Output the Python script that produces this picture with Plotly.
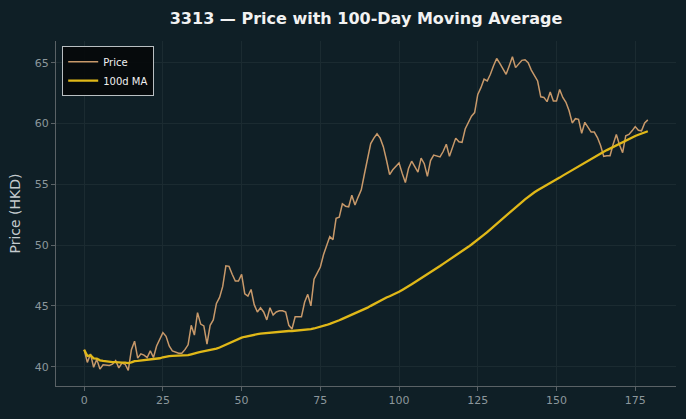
import numpy as np
import pandas as pd
import plotly.graph_objects as go

days = list(range(180))
price = [
    41.4, 40.35, 41.05, 39.95, 40.6, 39.8, 40.15, 40.1, 40.1, 40.2,
    40.5, 39.9, 40.3, 40.2, 39.7, 41.4, 42.1, 40.7, 41.05, 40.95,
    40.75, 41.3, 40.75, 41.7, 42.3, 42.8, 42.5, 41.7, 41.3, 41.2,
    41.1, 41.1, 41.4, 41.8, 43.4, 42.6, 44.45, 43.5, 43.35, 41.85,
    43.4, 43.85, 45.2, 45.7, 46.6, 48.3, 48.25, 47.6, 47.05, 47.05,
    47.6, 46.0, 45.8, 46.35, 45.1, 44.5, 44.85, 44.5, 43.85, 44.85,
    44.25, 44.5, 44.6, 44.6, 44.5, 43.4, 43.1, 44.1, 44.1, 44.1,
    45.3, 45.95, 45.0, 47.2, 47.7, 48.2, 49.2, 50.0, 50.7, 50.45,
    52.2, 52.3, 53.4, 53.2, 53.15, 54.1, 53.3, 53.95, 54.55, 55.85,
    57.2, 58.35, 58.8, 59.15, 58.8, 58.1, 57.0, 55.8, 56.2, 56.5,
    56.75, 55.9, 55.15, 56.3, 56.9, 56.45, 56.0, 57.15, 56.7, 55.65,
    56.95, 57.4, 57.3, 57.25, 57.7, 58.3, 57.3, 58.05, 58.8, 58.5,
    58.45, 59.55, 60.15, 60.6, 60.9, 62.4, 62.95, 63.65, 63.5, 64.05,
    64.75, 65.35, 64.95, 64.5, 64.05, 64.75, 65.5, 64.6, 64.9, 65.2,
    65.25, 65.0, 64.4, 63.9, 63.5, 62.2, 62.15, 61.8, 62.6, 61.85,
    61.85, 62.8, 62.15, 61.75, 61.05, 60.05, 60.4, 60.35, 59.2, 60.1,
    59.7, 59.3, 59.3, 58.85, 58.2, 57.3, 57.35, 57.35, 58.3, 59.1,
    58.25, 57.6, 59.0, 59.1, 59.4, 59.75, 59.45, 59.4, 60.05, 60.3,
]
ma_window = 100
ma = pd.Series(price).rolling(ma_window, min_periods=1).mean().tolist()

x_ticks = [0, 25, 50, 75, 100, 125, 150, 175]
y_ticks = [40, 45, 50, 55, 60, 65]

bg = "#0f1f26"
grid = "#1b2b31"
tick_col = "#8c979c"

fig = go.Figure()
fig.add_trace(go.Scatter(x=days, y=price, mode="lines", name="Price",
                         line=dict(color="#c8996a", width=1.5)))
fig.add_trace(go.Scatter(x=days, y=ma, mode="lines", name="100d MA",
                         line=dict(color="#e0b818", width=2.3)))

n = len(days)
pad_x = (n - 1) * 0.05
ymin, ymax = min(price), max(price)
pad_y = (ymax - ymin) * 0.05

fig.update_layout(
    width=686, height=419,
    paper_bgcolor=bg, plot_bgcolor=bg,
    margin=dict(l=56, r=10, t=41, b=33),
    font=dict(family="DejaVu Sans", color=tick_col, size=11),
    title=dict(text="<b>3313 — Price with 100-Day Moving Average</b>",
               x=0.5, xref="paper", xanchor="center", y=0.957, yref="container",
               yanchor="middle",
               font=dict(family="DejaVu Sans", size=16, color="#f2f2f2")),
    showlegend=True,
    legend=dict(x=0.01, y=0.985, xanchor="left", yanchor="top",
                bgcolor="rgba(5,8,10,0.9)", bordercolor="#b9bfc2", borderwidth=1,
                font=dict(size=10, color="#f0f0f0"),
                itemwidth=30, tracegroupgap=0),
)
fig.update_xaxes(
    range=[-pad_x, (n - 1) + pad_x], tickvals=x_ticks,
    showgrid=True, gridcolor=grid, gridwidth=1, zeroline=False,
    showline=True, linecolor="#5a6266", linewidth=1,
    ticks="outside", ticklen=4, tickcolor="#5a6266",
    tickfont=dict(size=11, color=tick_col),
)
fig.update_yaxes(
    range=[ymin - pad_y, ymax + pad_y], tickvals=y_ticks,
    showgrid=True, gridcolor=grid, gridwidth=1, zeroline=False,
    showline=True, linecolor="#5a6266", linewidth=1,
    ticks="outside", ticklen=4, tickcolor="#5a6266",
    tickfont=dict(size=11, color=tick_col),
    title=dict(text="Price (HKD)", font=dict(size=14, color="#c4cbce"), standoff=10),
)

fig.write_html("out.html")
